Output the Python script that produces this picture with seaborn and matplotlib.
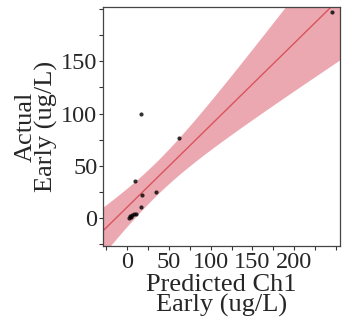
import numpy as np
import pandas as pd
import seaborn as sns
import matplotlib.pyplot as plt
from matplotlib.ticker import MultipleLocator

# Values
predicted = [244.9, 16.7, 62.6, 9.9, 18.3, 34.7, 16.7, 1.8, 3.6, 6.0, 8.4, 10.8, 4.8]
actual = [197.3, 99.3, 76.1, 35.5, 22.2, 24.5, 10.3, 0.0, 2.0, 3.0, 4.0, 4.0, 1.0]

df = pd.DataFrame({"predicted": predicted, "actual": actual})

sns.set_theme(style="ticks")
plt.rcParams['font.family'] = 'serif'
plt.rcParams['font.serif'] = ['Liberation Serif', 'DejaVu Serif']

fig = plt.figure(figsize=(3.48, 3.25), dpi=100)
ax = fig.add_axes([0.296, 0.243, 0.681, 0.735])

xlo, xhi = -29, 255
ax.set_xlim(xlo, xhi)
ax.set_ylim(-27, 202)

# analytic 95% confidence band of the mean fit
x = np.asarray(predicted)
y = np.asarray(actual)
n = len(x)
b1, b0 = np.polyfit(x, y, 1)
resid = y - (b0 + b1 * x)
s = np.sqrt((resid ** 2).sum() / (n - 2))
t = 2.201  # t(0.975, df=11)
grid = np.linspace(xlo, xhi, 200)
se = s * np.sqrt(1 / n + (grid - x.mean()) ** 2 / ((x - x.mean()) ** 2).sum())
fit = b0 + b1 * grid
ax.fill_between(grid, fit - t * se, fit + t * se, color="#eba8b0", lw=0, zorder=1)

sns.regplot(
    data=df, x="predicted", y="actual", ax=ax,
    truncate=False, ci=None,
    scatter_kws=dict(marker="s", s=9, color="black", linewidths=0, zorder=3),
    line_kws=dict(color="#d9545c", lw=1.0, zorder=2),
)

ax.set_xticks([0, 50, 100, 150, 200])
ax.xaxis.set_minor_locator(MultipleLocator(25))
ax.set_yticks([0, 50, 100, 150])
ax.yaxis.set_minor_locator(MultipleLocator(25))
ax.tick_params(which="both", direction="out", length=3, width=0.8, color="#333333",
               labelsize=17.5, pad=1)

for sp in ax.spines.values():
    sp.set_color("#444444")
    sp.set_linewidth(0.9)

ax.set_xlabel("Predicted Ch1\nEarly (ug/L)", fontsize=19, linespacing=0.9, labelpad=1)
ax.set_ylabel("Actual\nEarly (ug/L)", fontsize=19, linespacing=0.9, labelpad=2)

fig.savefig("out.png", dpi=100)
